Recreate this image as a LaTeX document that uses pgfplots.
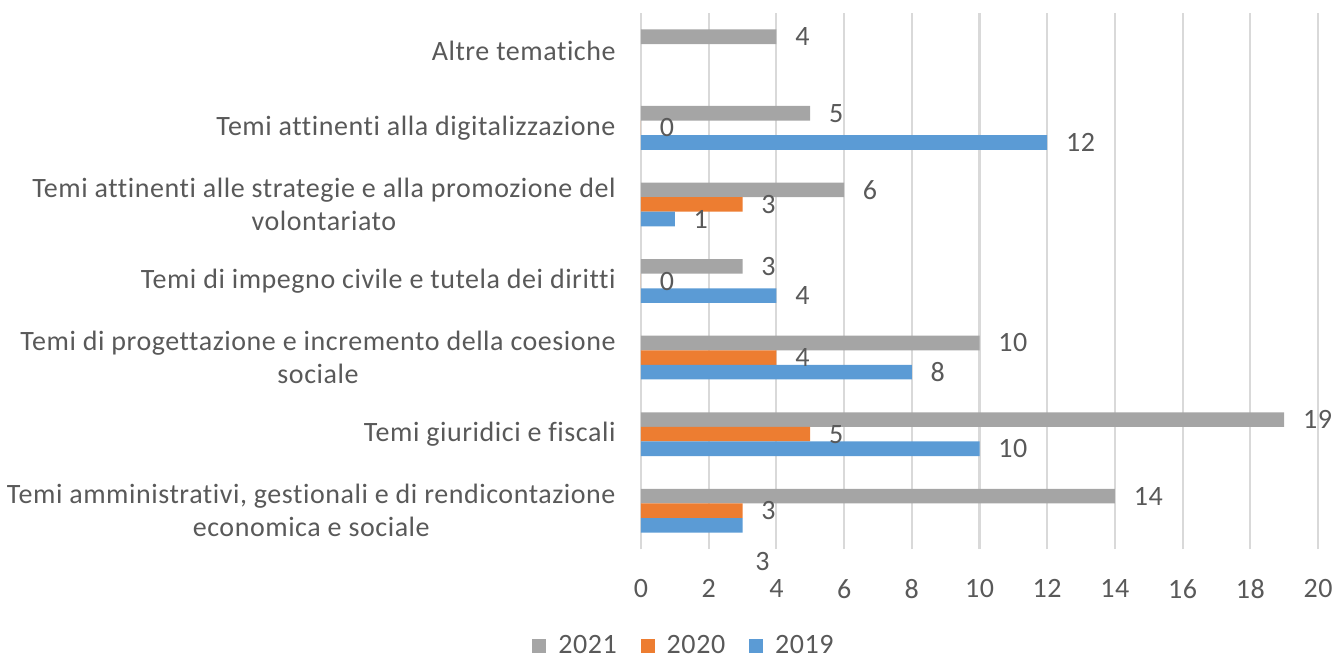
\documentclass[border=0pt]{standalone}
\usepackage{pgfplots}
\pgfplotsset{compat=1.18}
\usepackage{pgfplotstable}
\usepackage{fontspec}
\setmainfont{Carlito}[Ligatures={NoCommon}, LetterSpace=2]
\definecolor{cgray}{HTML}{A5A5A5}
\definecolor{corange}{HTML}{ED7D31}
\definecolor{cblue}{HTML}{5B9BD5}
\definecolor{ctext}{HTML}{595959}
\definecolor{cgrid}{HTML}{D9D9D9}

% y: 0 = Temi amministrativi ... 6 = Altre tematiche
\pgfplotstableread{
y  v   dx   dy
0  14  0    0
1  19  0    0
2  10  0    0
3  3   0    0
4  6   0    0
5  5   0    0
6  4   0    0
}\dataA
\pgfplotstableread{
y  v   dx   dy
0  3   0    0
1  5   0    0
2  4   0    0
3  0   0    0
4  3   0    0
5  0   0    0
}\dataB
\pgfplotstableread{
y  v   dx   dy
0  3   -3   -18
1  10  0    0
2  8   0    0
3  4   0    0
4  1   0    0
5  12  0    0
}\dataC

\begin{document}
\begin{tikzpicture}[font=\fontsize{14}{16.5}\selectfont, text=ctext]
\useasboundingbox (-320.5pt,-56pt) rectangle (347.5pt,274.5pt);
\begin{axis}[
  at={(0pt,0pt)}, anchor=south west,
  scale only axis,
  width=338.5pt, height=268pt,
  xbar, bar width=7.3pt,
  xmin=0, xmax=20,
  ymin=-0.5, ymax=6.5,
  xtick={0,2,...,20},
  ytick={0,1,2,3,4,5,6},
  yticklabels={
    {Temi amministrativi, gestionali e di rendicontazione\\economica e sociale},
    {Temi giuridici e fiscali},
    {Temi di progettazione e incremento della coesione\\sociale},
    {Temi di impegno civile e tutela dei diritti},
    {Temi attinenti alle strategie e alla promozione del\\volontariato},
    {Temi attinenti alla digitalizzazione},
    {Altre tematiche}},
  yticklabel style={align=center, anchor=east, inner sep=0pt, xshift=-12.5pt, text=ctext},
  xticklabel style={anchor=north, inner sep=0pt, yshift=-15pt, text=ctext},
  /pgf/number format/assume math mode=true,
  major tick length=0pt,
  axis line style={draw=none},
  xmajorgrids,
  major grid style={draw=cgrid, line width=1.1pt},
  nodes near coords,
  visualization depends on={\thisrow{dx} \as \dxv},
  visualization depends on={\thisrow{dy} \as \dyv},
  every node near coord/.append style={anchor=west, inner sep=0pt, text=ctext,
    xshift=9.25pt+\dxv pt, yshift=\dyv pt},
  legend columns=3,
  legend style={draw=none, fill=none, at={(0.062,-0.181)}, anchor=center,
    /tikz/every even column/.append style={column sep=12pt},
    nodes={inner sep=0pt, text=ctext}},
  legend image code/.code={\fill[#1] (0pt,-3.5pt) rectangle (7pt,3.5pt); \path (13pt,0pt);},
]
\addplot[fill=cgray, draw=none, bar shift=7.3pt] table[x=v, y=y] {\dataA};
\addplot[fill=corange, draw=none, bar shift=0pt] table[x=v, y=y] {\dataB};
\addplot[fill=cblue, draw=none, bar shift=-7.3pt] table[x=v, y=y] {\dataC};
\legend{2021, 2020, 2019}
\end{axis}
\end{tikzpicture}
\end{document}
